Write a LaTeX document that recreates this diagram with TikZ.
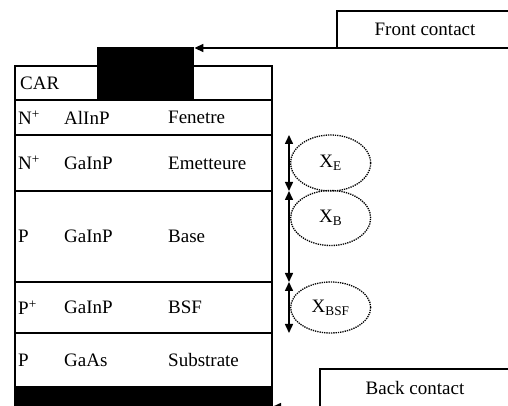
\documentclass[tikz,border=0pt]{standalone}
\usepackage{fontspec}
\setmainfont{Liberation Serif}
\usetikzlibrary{arrows.meta,positioning,shapes.geometric}

\begin{document}
\begin{tikzpicture}[
  x=1pt,y=1pt,
  layer/.style={draw,line width=1.5pt,minimum width=257pt,inner sep=0pt,outer sep=0pt},
  lbl/.style={anchor=west,inner sep=0pt,font=\fontsize{19}{21}\selectfont},
  contactbox/.style={draw,line width=1.5pt,inner sep=0pt,outer sep=0pt,font=\fontsize{19}{21}\selectfont},
  zone/.style={ellipse,draw,densely dotted,line width=1.3pt,minimum width=80pt,inner sep=0pt,font=\fontsize{19}{21}\selectfont},
  arrow/.style={-{Triangle[length=9pt,width=8pt]},line width=1.5pt},
  dim/.style={{Triangle[length=9pt,width=8pt]}-{Triangle[length=9pt,width=8pt]},line width=1.5pt}
]
\useasboundingbox (0,0) rectangle (508,406);
% layer stack
\node[layer,minimum height=34pt,anchor=north west] (car) at (15,340) {};
\node[layer,minimum height=35pt,below=0pt of car] (fen) {};
\node[layer,minimum height=56pt,below=0pt of fen] (emit) {};
\node[layer,minimum height=91pt,below=0pt of emit] (base) {};
\node[layer,minimum height=51pt,below=0pt of base] (bsf) {};
\node[layer,minimum height=54pt,below=0pt of bsf] (sub) {};
\node[layer,minimum height=24pt,fill=black,below=0pt of sub] (bar) {};
\node[fill=black,minimum width=97pt,minimum height=54pt,inner sep=0pt,anchor=north west] (grid) at (97,359) {};
\node[lbl] (car-name) at ([xshift=5pt]car.west) {CAR};
\foreach \r/\d/\m/\n in {fen/N\textsuperscript{+}/AlInP/Fenetre,emit/N\textsuperscript{+}/GaInP/Emetteure,base/P/GaInP/Base,bsf/P\textsuperscript{+}/GaInP/BSF,sub/P/GaAs/Substrate}{
  \node[lbl] (\r-dop) at ([xshift=3pt]\r.west) {\d};
  \node[lbl] (\r-mat) at ([xshift=49pt]\r.west) {\m};
  \node[lbl] (\r-name) at ([xshift=153pt]\r.west) {\n};
}
% contacts
\node[contactbox,minimum width=176pt,minimum height=37pt,anchor=south west] (front) at (337,358) {Front contact};
\draw[arrow] (front.south east) -- (front.south east -| grid.east);
\node[contactbox,minimum width=190pt,minimum height=38pt,anchor=south west] (back) at (320,-1) {Back contact};
\draw[arrow] (back.south west) -- (back.south west -| bar.east);
% thicknesses
\draw[dim] ([xshift=17pt]emit.north east) -- ([xshift=17pt]emit.south east);
\draw[dim] ([xshift=17pt]base.north east) -- ([xshift=17pt]base.south east);
\draw[dim] ([xshift=17pt]bsf.north east) -- ([xshift=17pt]bsf.south east);
\node[zone,minimum height=56pt,anchor=west] (xe) at ([xshift=18pt]emit.east) {X\textsubscript{E}};
\node[zone,minimum height=55pt,anchor=west] (xb) at ([xshift=18pt,yshift=-27pt]base.north east) {X\textsubscript{B}};
\node[zone,minimum height=51pt,anchor=west] (xbsf) at ([xshift=18pt]bsf.east) {X\textsubscript{BSF}};
\end{tikzpicture}
\end{document}
